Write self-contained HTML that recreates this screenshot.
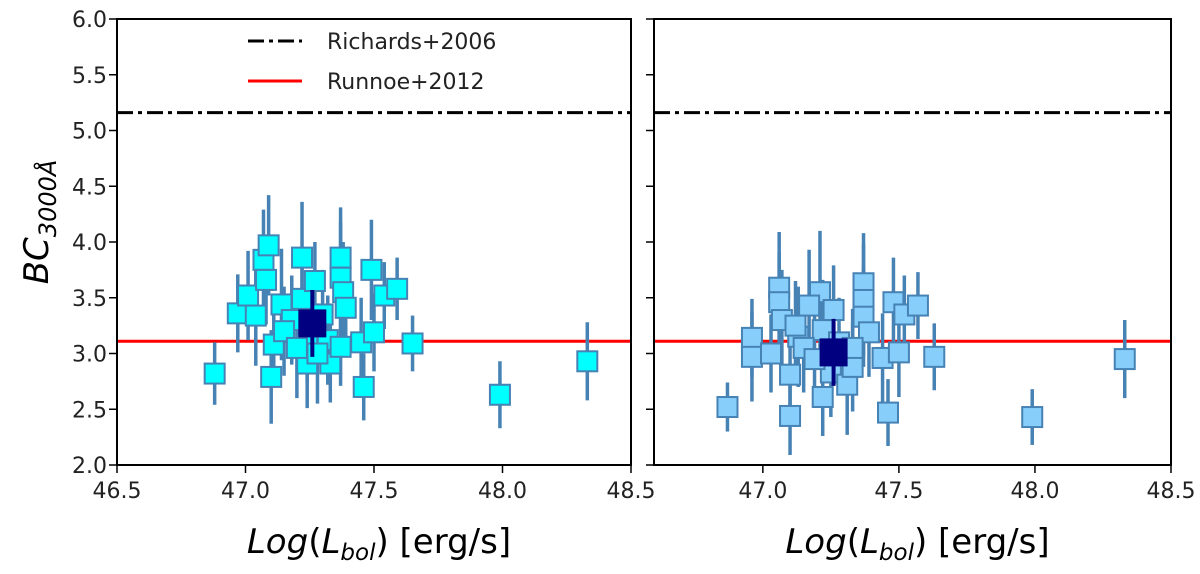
<!DOCTYPE html>
<html><head><meta charset="utf-8"><style>
body{margin:0;background:#fff;}
svg{display:block;font-family:"DejaVu Sans","Liberation Sans",sans-serif;}
</style></head><body>
<svg id="chart" width="1200" height="574"></svg>
<script>
const leftX=[46.88,46.97,47.01,47.04,47.07,47.09,47.08,47.14,47.11,47.10,47.22,47.22,47.27,47.18,47.24,47.24,47.32,47.33,47.37,47.37,47.38,47.39,47.37,47.45,47.49,47.54,47.59,47.50,47.46,47.65,47.99,48.33,47.15,47.20,47.30,47.28];
const leftY=[2.82,3.36,3.52,3.34,3.84,3.97,3.66,3.44,3.08,2.79,3.86,3.49,3.65,3.30,2.91,3.09,3.12,2.91,3.86,3.68,3.55,3.41,3.06,3.10,3.75,3.52,3.58,3.19,2.70,3.09,2.63,2.93,3.20,3.05,3.35,3.00];
const leftErr=[0.28,0.35,0.4,0.45,0.45,0.45,0.4,0.5,0.3,0.42,0.5,0.4,0.35,0.4,0.4,0.35,0.4,0.35,0.45,0.5,0.45,0.4,0.35,0.4,0.45,0.3,0.28,0.35,0.3,0.25,0.3,0.35,0.4,0.45,0.4,0.45];
const leftMean=[47.26,3.27,0.3];
const rightX=[46.87,46.96,46.96,47.03,47.06,47.06,47.07,47.10,47.10,47.13,47.21,47.17,47.22,47.26,47.25,47.22,47.31,47.33,47.37,47.37,47.37,47.39,47.44,47.46,47.48,47.52,47.57,47.50,47.63,47.99,48.33,47.15,47.19,47.28,47.33,47.12];
const rightY=[2.52,3.14,2.97,3.00,3.59,3.46,3.30,2.81,2.44,3.15,3.55,3.43,3.21,3.39,2.83,2.61,2.72,2.88,3.63,3.48,3.33,3.19,2.96,2.47,3.46,3.35,3.43,3.01,2.97,2.43,2.95,3.05,2.95,3.10,3.05,3.25];
const rightErr=[0.22,0.35,0.4,0.35,0.5,0.45,0.45,0.4,0.35,0.45,0.55,0.5,0.45,0.4,0.4,0.35,0.45,0.4,0.45,0.5,0.45,0.4,0.4,0.3,0.4,0.35,0.3,0.4,0.3,0.25,0.35,0.4,0.4,0.4,0.35,0.4];
const rightMean=[47.26,3.01,0.3];
const yTicks=[2.0,2.5,3.0,3.5,4.0,4.5,5.0,5.5,6.0];
const xTicks=[46.5,47.0,47.5,48.0,48.5];
const richards=5.16, runnoe=3.11;

const NS="http://www.w3.org/2000/svg";
const svg=document.getElementById('chart');
function mk(tag,attrs,parent){const e=document.createElementNS(NS,tag);for(const k in attrs)e.setAttribute(k,attrs[k]);(parent||svg).appendChild(e);return e;}

function panel(name,x0,x1,xmin,xmax,xs,ys,es,mean,fill,showY){
  const y0=19,y1=465,ymin=2,ymax=6;
  const sx=v=>x0+(v-xmin)/(xmax-xmin)*(x1-x0);
  const sy=v=>y1-(v-ymin)/(ymax-ymin)*(y1-y0);
  const g=mk('g',{});
  
  
  const cl=mk('clipPath',{id:'clip-'+name},g);
  mk('rect',{x:x0,y:y0,width:x1-x0,height:y1-y0},cl);
  const pg=mk('g',{'clip-path':'url(#clip-'+name+')'},g);
  const rl=mk('line',{x1:x0,x2:x1,y1:sy(richards),y2:sy(richards),stroke:'#000','stroke-width':3,'stroke-dasharray':'16 5 4 5'},pg);
  
  
  const nl=mk('line',{x1:x0,x2:x1,y1:sy(runnoe),y2:sy(runnoe),stroke:'#ff0000','stroke-width':3},pg);
  
  
  for(let i=0;i<xs.length;i++){
    const e=mk('line',{x1:sx(xs[i]),x2:sx(xs[i]),y1:sy(ys[i]-es[i]),y2:sy(ys[i]+es[i]),stroke:'#4682b4','stroke-width':3.5},pg);
    
    
  }
  for(let i=0;i<xs.length;i++){
    const r=mk('rect',{x:sx(xs[i])-10,y:sy(ys[i])-10,width:20,height:20,fill:fill,stroke:'#4682b4','stroke-width':2},pg);
    
    
  }
  const me=mk('line',{x1:sx(mean[0]),x2:sx(mean[0]),y1:sy(mean[1]-mean[2]),y2:sy(mean[1]+mean[2]),stroke:'#000080','stroke-width':4},pg);
  
  
  const mr=mk('rect',{x:sx(mean[0])-14,y:sy(mean[1])-14,width:28,height:28,fill:'#000080'},pg);
  
  
  const fr=mk('rect',{x:x0,y:y0,width:x1-x0,height:y1-y0,fill:'none',stroke:'#000','stroke-width':2},g);
  
  
  xTicks.forEach(t=>{
    if(t<xmin-1e-6||t>xmax+1e-6)return;
    mk('line',{x1:sx(t),x2:sx(t),y1:y1,y2:y1+8,stroke:'#000','stroke-width':1.5},g);
    const tx=mk('text',{x:sx(t),y:y1+33,'text-anchor':'middle','font-size':22,fill:'#222'},g);
    tx.textContent=t.toFixed(1);
    
    
  });
  yTicks.forEach(t=>{
    mk('line',{x1:x0-8,x2:x0,y1:sy(t),y2:sy(t),stroke:'#000','stroke-width':1.5},g);
    if(showY){
      const ty=mk('text',{x:x0-10,y:sy(t)+8,'text-anchor':'end','font-size':22,fill:'#222'},g);
      ty.textContent=t.toFixed(1);
      
      
    }
  });
  const xl=mk('text',{x:(x0+x1)/2+5,y:553,'text-anchor':'middle','font-size':34,fill:'#000'},g);
  xl.innerHTML='<tspan font-style="italic">Log</tspan>(<tspan font-style="italic">L</tspan><tspan font-style="italic" font-size="23" dy="7">bol</tspan><tspan dy="-7">) [erg/s]</tspan>';
  
  
}
panel('left',117,631,46.5,48.5,leftX,leftY,leftErr,leftMean,'#00ffff',true);
panel('right',654,1171,46.6,48.5,rightX,rightY,rightErr,rightMean,'#87cefa',false);

const yl=mk('text',{transform:'translate(48,222) rotate(-90)','text-anchor':'middle','font-size':34,fill:'#000','font-style':'italic'});
yl.innerHTML='BC<tspan font-size="24" dy="8">3000Å</tspan>';



const lg=mk('g',{});


mk('line',{x1:248,x2:302,y1:41,y2:41,stroke:'#000','stroke-width':3,'stroke-dasharray':'16 5 4 5'},lg);
const t1=mk('text',{x:327,y:49,'font-size':22,fill:'#222'},lg);t1.textContent='Richards+2006';


mk('line',{x1:248,x2:302,y1:81,y2:81,stroke:'#ff0000','stroke-width':3},lg);
const t2=mk('text',{x:327,y:89,'font-size':22,fill:'#222'},lg);t2.textContent='Runnoe+2012';


</script>
</body></html>
